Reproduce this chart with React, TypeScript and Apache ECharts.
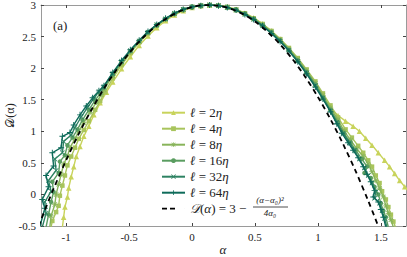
import React, { useEffect, useRef } from 'react';
import * as echarts from 'echarts';

const seriesNames = ['ℓ = 2η', 'ℓ = 4η', 'ℓ = 8η', 'ℓ = 16η', 'ℓ = 32η', 'ℓ = 64η'];
const scaleLabels = ['2', '4', '8', '16', '32', '64'];
const dashName = '𝒟(α) = 3 − (α−α₀)²/(4α₀)';
const xTicks = [-1, -0.5, 0, 0.5, 1, 1.5];

const d2: number[][] = [[-1.03,-0.52],[-1.02,-0.36],[-1.01,-0.2],[-0.99,-0.04],[-0.98,0.1],[-0.96,0.28],[-0.94,0.44],[-0.92,0.6],[-0.89,0.76],[-0.86,0.92],[-0.82,1.08],[-0.78,1.26],[-0.73,1.45],[-0.68,1.62],[-0.63,1.78],[-0.56,1.99],[-0.49,2.18],[-0.42,2.36],[-0.35,2.51],[-0.28,2.64],[-0.21,2.75],[-0.14,2.84],[-0.07,2.91],[0,2.96],[0.07,2.99],[0.14,3.0],[0.21,3.0],[0.28,2.97],[0.35,2.93],[0.42,2.87],[0.49,2.8],[0.56,2.7],[0.63,2.59],[0.7,2.46],[0.77,2.31],[0.84,2.14],[0.91,1.95],[0.98,1.75],[1.04,1.54],[1.1,1.37],[1.16,1.25],[1.22,1.16],[1.28,1.08],[1.33,1.0],[1.38,0.89],[1.43,0.78],[1.48,0.66],[1.53,0.54],[1.57,0.44],[1.61,0.33],[1.65,0.22],[1.69,0.12],[1.73,0.02]];
const d4: number[][] = [[-1.12,-0.52],[-1.11,-0.42],[-1.08,-0.28],[-1.06,-0.18],[-1.05,-0.02],[-1.03,0.14],[-1.01,0.3],[-0.99,0.46],[-0.96,0.6],[-0.93,0.74],[-0.9,0.88],[-0.86,1.02],[-0.82,1.16],[-0.77,1.34],[-0.73,1.48],[-0.69,1.62],[-0.63,1.84],[-0.56,2.05],[-0.49,2.24],[-0.42,2.41],[-0.35,2.55],[-0.28,2.67],[-0.21,2.77],[-0.14,2.86],[-0.07,2.92],[0,2.97],[0.07,2.99],[0.14,3.0],[0.21,2.99],[0.28,2.97],[0.35,2.93],[0.42,2.87],[0.49,2.79],[0.56,2.7],[0.63,2.59],[0.7,2.46],[0.77,2.32],[0.84,2.16],[0.91,1.98],[0.98,1.79],[1.04,1.6],[1.1,1.41],[1.16,1.22],[1.22,1.03],[1.27,0.9],[1.32,0.77],[1.36,0.66],[1.4,0.54],[1.43,0.44],[1.46,0.3],[1.49,0.18],[1.51,0.05],[1.54,-0.08],[1.56,-0.2],[1.58,-0.32],[1.6,-0.43],[1.62,-0.54]];
const d8: number[][] = [[-1.13,-0.52],[-1.12,-0.34],[-1.09,-0.16],[-1.08,0.0],[-1.06,0.16],[-1.04,0.32],[-1.02,0.48],[-0.99,0.6],[-0.97,0.74],[-0.93,0.88],[-0.9,1.0],[-0.86,1.14],[-0.81,1.3],[-0.76,1.46],[-0.72,1.58],[-0.7,1.66],[-0.63,1.88],[-0.56,2.08],[-0.49,2.26],[-0.42,2.42],[-0.35,2.56],[-0.28,2.68],[-0.21,2.78],[-0.14,2.86],[-0.07,2.93],[0,2.97],[0.07,2.99],[0.14,3.0],[0.21,2.99],[0.28,2.97],[0.35,2.92],[0.42,2.86],[0.49,2.78],[0.56,2.69],[0.63,2.58],[0.7,2.45],[0.77,2.3],[0.84,2.14],[0.91,1.96],[0.98,1.76],[1.04,1.57],[1.1,1.37],[1.16,1.18],[1.21,1.0],[1.26,0.86],[1.31,0.72],[1.36,0.6],[1.4,0.48],[1.43,0.36],[1.46,0.22],[1.49,0.1],[1.52,-0.04],[1.54,-0.18],[1.56,-0.3],[1.58,-0.4],[1.6,-0.52]];
const d16: number[][] = [[-1.16,-0.52],[-1.14,-0.32],[-1.12,-0.12],[-1.1,0.04],[-1.11,0.2],[-1.06,0.34],[-1.05,0.52],[-1.01,0.62],[-0.99,0.78],[-0.95,0.9],[-0.91,1.03],[-0.87,1.18],[-0.82,1.34],[-0.77,1.49],[-0.73,1.6],[-0.7,1.69],[-0.63,1.9],[-0.56,2.1],[-0.49,2.27],[-0.42,2.43],[-0.35,2.57],[-0.28,2.68],[-0.21,2.78],[-0.14,2.86],[-0.07,2.93],[0,2.97],[0.07,2.99],[0.14,3.0],[0.21,2.99],[0.28,2.96],[0.35,2.92],[0.42,2.86],[0.49,2.78],[0.56,2.68],[0.63,2.57],[0.7,2.44],[0.77,2.29],[0.84,2.12],[0.91,1.94],[0.98,1.74],[1.04,1.54],[1.1,1.34],[1.16,1.14],[1.21,0.96],[1.26,0.82],[1.3,0.7],[1.35,0.56],[1.39,0.44],[1.37,0.34],[1.42,0.26],[1.45,0.12],[1.48,0.0],[1.5,-0.14],[1.52,-0.26],[1.54,-0.36],[1.56,-0.52]];
const d32: number[][] = [[-1.19,-0.52],[-1.16,-0.3],[-1.17,-0.12],[-1.12,0.05],[-1.14,0.22],[-1.08,0.38],[-1.09,0.56],[-1.03,0.66],[-1.02,0.84],[-0.96,0.94],[-0.93,1.06],[-0.88,1.23],[-0.83,1.38],[-0.78,1.52],[-0.74,1.63],[-0.7,1.71],[-0.63,1.92],[-0.56,2.11],[-0.49,2.28],[-0.42,2.43],[-0.35,2.57],[-0.28,2.69],[-0.21,2.78],[-0.14,2.87],[-0.07,2.93],[0,2.97],[0.07,2.99],[0.14,3.0],[0.21,2.99],[0.28,2.96],[0.35,2.92],[0.42,2.85],[0.49,2.77],[0.56,2.67],[0.63,2.56],[0.7,2.43],[0.77,2.28],[0.84,2.11],[0.91,1.92],[0.98,1.72],[1.04,1.52],[1.1,1.32],[1.15,1.14],[1.2,0.97],[1.25,0.82],[1.29,0.7],[1.33,0.56],[1.37,0.42],[1.4,0.3],[1.43,0.18],[1.46,0.04],[1.45,-0.06],[1.49,-0.14],[1.51,-0.26],[1.53,-0.38],[1.55,-0.53]];
const d64: number[][] = [[-1.21,-0.52],[-1.17,-0.22],[-1.19,-0.08],[-1.14,0.12],[-1.16,0.3],[-1.1,0.45],[-1.11,0.66],[-1.04,0.74],[-1.03,0.92],[-0.97,0.98],[-0.94,1.1],[-0.89,1.26],[-0.84,1.4],[-0.79,1.53],[-0.74,1.64],[-0.7,1.72],[-0.63,1.93],[-0.56,2.12],[-0.49,2.29],[-0.42,2.44],[-0.35,2.58],[-0.28,2.69],[-0.21,2.79],[-0.14,2.87],[-0.07,2.93],[0,2.97],[0.07,2.99],[0.14,3.0],[0.21,2.99],[0.28,2.96],[0.35,2.92],[0.42,2.85],[0.49,2.77],[0.56,2.67],[0.63,2.55],[0.7,2.42],[0.77,2.27],[0.84,2.1],[0.91,1.91],[0.98,1.7],[1.04,1.51],[1.1,1.31],[1.15,1.12],[1.19,0.97],[1.24,0.82],[1.28,0.7],[1.32,0.58],[1.36,0.44],[1.39,0.32],[1.42,0.2],[1.45,0.06],[1.44,-0.04],[1.48,-0.12],[1.5,-0.24],[1.52,-0.36],[1.54,-0.52]];
const parabola: number[][] = [[-1.22,-0.505],[-1.2,-0.402],[-1.1,0.091],[-1.0,0.544],[-0.9,0.96],[-0.8,1.337],[-0.7,1.675],[-0.6,1.975],[-0.5,2.237],[-0.4,2.46],[-0.3,2.644],[-0.2,2.791],[-0.1,2.898],[0,2.968],[0.1,2.998],[0.2,2.991],[0.3,2.944],[0.4,2.86],[0.5,2.737],[0.6,2.575],[0.7,2.375],[0.8,2.137],[0.9,1.86],[1.0,1.544],[1.1,1.191],[1.2,0.798],[1.3,0.368],[1.4,-0.102],[1.48,-0.505]];

const seriesData = [d2, d4, d8, d16, d32, d64];
const colors = ['#c8d35b', '#a8c45c', '#88b45a', '#5a9d60', '#2d8262', '#0e6b5a'];
const PLUS = 'path://M4.2,0H5.8V4.2H10V5.8H5.8V10H4.2V5.8H0V4.2H4.2Z';
const CROSS = 'path://M1.1,0L5,3.9L8.9,0L10,1.1L6.1,5L10,8.9L8.9,10L5,6.1L1.1,10L0,8.9L3.9,5L0,1.1Z';
const STAR = 'path://M4.3,0H5.7V4.3H10V5.7H5.7V10H4.3V5.7H0V4.3H4.3Z M1.5,0.5L5,4L8.5,0.5L9.5,1.5L6,5L9.5,8.5L8.5,9.5L5,6L1.5,9.5L0.5,8.5L4,5L0.5,1.5Z';
const symbols = ['triangle', 'rect', STAR, 'circle', CROSS, PLUS];
const symbolSizes = [5.5, 4.5, 5.5, 4.5, 5, 6];
const DASH_ICON = 'path://M0,0H5V1.8H0Z M8,0H13V1.8H8Z M22.9,0.8H23V0.9H22.9Z';

const FONT = 'Liberation Serif';

export default function App() {
  const ref = useRef<HTMLDivElement>(null);
  useEffect(() => {
    if (!ref.current) return;
    const chart = echarts.init(ref.current, null, { renderer: 'svg' });
    const lineSeries: any[] = seriesData.map((d, i) => ({
      type: 'line',
      name: seriesNames[i],
      data: d,
      symbol: symbols[i],
      symbolSize: symbolSizes[i],
      showSymbol: true,
      silent: true,
      z: 2 + i,
      lineStyle: { width: 1.4, color: colors[i] },
      itemStyle: { color: colors[i] },
    }));
    lineSeries.push({
      type: 'line',
      name: dashName,
      data: parabola,
      symbol: 'none',
      smooth: 0.3,
      silent: true,
      z: 20,
      lineStyle: { width: 1.8, color: '#000', type: [5, 4] },
      itemStyle: { color: '#000' },
    });
    const axisCommon = {
      type: 'value',
      splitLine: { show: false },
      axisLine: { show: true, onZero: false, lineStyle: { color: '#9a9a9a', width: 1 } },
    };
    const legendRich = (name: string) => {
      if (name === dashName) return '{s|𝒟}({i|α}) = 3 −';
      const idx = seriesNames.indexOf(name);
      return '{i|ℓ} = ' + scaleLabels[idx] + '{i|η}';
    };
    chart.setOption({
      animation: false,
      grid: { left: 41, right: 1, top: 5, bottom: 31, containLabel: false, outerBoundsMode: 'none' },
      xAxis: [
        {
          ...axisCommon,
          min: -1.2,
          max: 1.7,
          position: 'bottom',
          axisTick: { show: true, inside: true, length: 3, customValues: xTicks, lineStyle: { color: '#444' } },
          axisLabel: { customValues: xTicks, margin: 5, color: '#222', fontFamily: FONT, fontSize: 11, formatter: (v: number) => String(v) },
        },
        {
          ...axisCommon,
          min: -1.2,
          max: 1.7,
          position: 'top',
          axisTick: { show: true, inside: true, length: 3, customValues: xTicks, lineStyle: { color: '#444' } },
          axisLabel: { show: false },
        },
      ],
      yAxis: [
        {
          ...axisCommon,
          min: -0.5,
          max: 3,
          interval: 0.5,
          position: 'left',
          axisTick: { show: true, inside: true, length: 3, lineStyle: { color: '#444' } },
          axisLabel: { margin: 5, color: '#222', fontFamily: FONT, fontSize: 11, formatter: (v: number) => String(v) },
        },
        {
          ...axisCommon,
          min: -0.5,
          max: 3,
          interval: 0.5,
          position: 'right',
          axisTick: { show: true, inside: true, length: 3, lineStyle: { color: '#444' } },
          axisLabel: { show: false },
        },
      ],
      legend: {
        orient: 'vertical',
        left: 156,
        top: 100.7,
        itemWidth: 23,
        itemHeight: 6,
        itemGap: 2,
        selectedMode: false,
        data: [...seriesNames, { name: dashName, icon: DASH_ICON }],
        formatter: legendRich,
        textStyle: {
          fontFamily: FONT,
          fontSize: 13,
          color: '#222',
          lineHeight: 14,
          rich: {
            i: { fontFamily: FONT, fontStyle: 'italic', fontSize: 13, lineHeight: 14, color: '#222' },
            s: { fontFamily: FONT, fontStyle: 'italic', fontSize: 13, lineHeight: 14, color: '#222' },
          },
        },
      },
      graphic: [
        { type: 'text', x: 53, y: 19, style: { text: '(a)', fontFamily: FONT, fontSize: 13, fill: '#222' } },
        { type: 'text', x: 10, y: 115.5, rotation: Math.PI / 2, style: { text: '𝒟(α)', fontFamily: FONT, fontSize: 12, fill: '#222', align: 'center', verticalAlign: 'middle' } },
        { type: 'text', x: 223, y: 249, style: { text: 'α', fontFamily: FONT, fontStyle: 'italic', fontSize: 13, fill: '#222', align: 'center', verticalAlign: 'middle' } },
        { type: 'text', x: 270, y: 200, style: { text: '(α−α₀)²', fontFamily: FONT, fontStyle: 'italic', fontSize: 9, fill: '#222', align: 'center', verticalAlign: 'middle' } },
        { type: 'line', shape: { x1: 253, y1: 207, x2: 288, y2: 207 }, style: { stroke: '#222', lineWidth: 0.8 } },
        { type: 'text', x: 270, y: 213, style: { text: '4α₀', fontFamily: FONT, fontStyle: 'italic', fontSize: 9, fill: '#222', align: 'center', verticalAlign: 'middle' } },
      ],
      series: lineSeries,
    });
    return () => chart.dispose();
  }, []);
  return <div ref={ref} style={{ width: 407, height: 257, position: 'absolute', left: 0, top: 0 }} />;
}
